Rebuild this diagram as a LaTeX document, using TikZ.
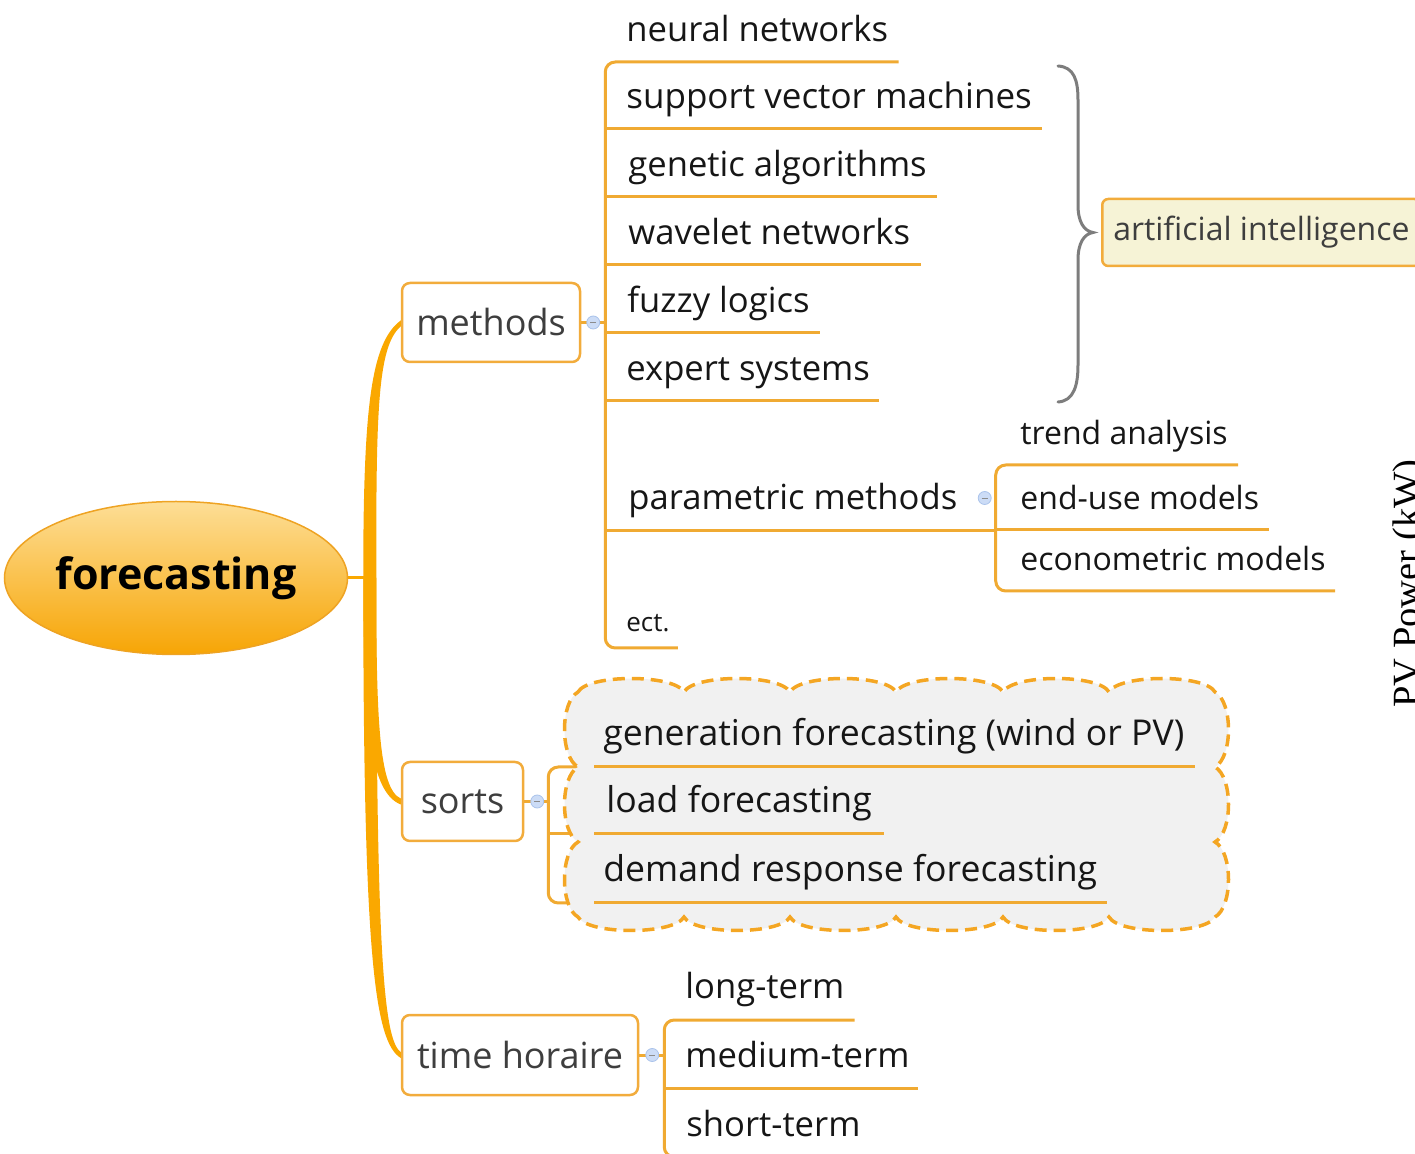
\documentclass[tikz,border=0pt]{standalone}
\usepackage{fontspec}
\newfontfamily\osans{Open Sans}
\newfontfamily\tnr{Liberation Serif}
\usetikzlibrary{calc,shapes.geometric}

\definecolor{mmline}{RGB}{240,170,50}
\definecolor{mmtrunk}{RGB}{250,168,0}
\definecolor{mmbox}{RGB}{242,172,60}
\definecolor{mmtext}{RGB}{22,22,22}
\definecolor{mmgrey}{RGB}{62,62,62}
\definecolor{cloudfill}{RGB}{241,241,241}
\definecolor{clouddash}{RGB}{244,166,35}
\definecolor{aifill}{RGB}{246,243,214}
\definecolor{bracecol}{RGB}{125,125,125}
\definecolor{btnfill}{RGB}{204,220,246}
\definecolor{btndraw}{RGB}{170,195,235}
\definecolor{rootlight}{RGB}{253,222,150}
\definecolor{rootdark}{RGB}{247,165,5}
\definecolor{rootdraw}{RGB}{238,163,35}

\pgfdeclarelayer{wires}
\pgfdeclarelayer{cloudlayer}
\pgfsetlayers{wires,cloudlayer,main}

\tikzset{
  leaf/.style={inner sep=0pt, anchor=base west, text=mmtext,
    font=\osans\fontsize{17.3}{20}\selectfont},
  smallleaf/.style={leaf, font=\osans\fontsize{16}{19}\selectfont},
  cloudleaf/.style={leaf, font=\osans\fontsize{17.8}{21}\selectfont},
  topic/.style={draw=mmbox, line width=1.25pt, rounded corners=4pt, fill=white,
    text=mmgrey, font=\osans\fontsize{18}{22}\selectfont,
    minimum height=39.5pt, inner sep=0pt},
  uline/.style={draw=mmline, line width=1.5pt},
  btn/.style={circle, minimum size=6.5pt, inner sep=0pt, fill=btnfill,
    draw=btndraw, line width=0.4pt,
    path picture={\draw[black!45, line width=0.4pt]
      ([xshift=-1.6pt]path picture bounding box.center) --
      ([xshift=1.6pt]path picture bounding box.center);}},
}

\begin{document}
\begin{tikzpicture}[x=0.5pt, y=-0.5pt]
\useasboundingbox (0,0) rectangle (1415,1154);
\clip (0,0) rectangle (1415,1154);

% ---------- central topic and main branches ----------
\node[ellipse, minimum width=171.5pt, minimum height=76.5pt, inner sep=0pt,
  draw=rootdraw, line width=0.75pt, top color=rootlight, bottom color=rootdark,
  font=\osans\bfseries\fontsize{21.5}{26}\selectfont, text=black]
  (root) at (176,578) {forecasting};

\node[topic, minimum width=89pt] (methods) at (491,322.5) {methods};
\node[topic, minimum width=60.5pt] (sorts) at (462.5,801.5) {sorts};
\node[topic, minimum width=118pt, minimum height=40pt] (horaire) at (520,1055) {time horaire};

\coordinate (hub) at ($(root.east)+(22,0)$);

\begin{pgfonlayer}{wires}
  \draw[mmtrunk, line width=1.5pt] (root.east) -- (hub);
  % tapered branches
  \fill[mmtrunk] ($(hub)+(-7,0)$) .. controls +(0,-170) and +(-30,22) ..
    ($(methods.west)+(0,-2)$) -- ($(methods.west)+(0,4)$)
    .. controls +(-24,20) and +(0,-160) .. ($(hub)+(6,0)$) -- cycle;
  \fill[mmtrunk] ($(hub)+(-7,0)$) .. controls +(0,150) and +(-30,-12) ..
    ($(sorts.west)+(0,3)$) -- ($(sorts.west)+(0,-3)$)
    .. controls +(-22,-10) and +(0,140) .. ($(hub)+(6,0)$) -- cycle;
  \fill[mmtrunk] ($(hub)+(-7,0)$) .. controls +(0,380) and +(-26,-16) ..
    ($(horaire.west)+(0,3)$) -- ($(horaire.west)+(0,-3)$)
    .. controls +(-18,-12) and +(0,360) .. ($(hub)+(6,0)$) -- cycle;
\end{pgfonlayer}

% ---------- methods ----------
\coordinate (ms) at ($(methods.east)+(24,0)$);
\node[leaf] (nn)  at (626,42)  {neural networks};
\node[leaf, font=\osans\fontsize{17.5}{20}\selectfont] (svm) at (626,109) {support vector machines};
\node[leaf] (ga)  at (628,177) {genetic algorithms};
\node[leaf] (wn)  at (628,245) {wavelet networks};
\node[leaf] (fl)  at (627,313) {fuzzy logics};
\node[leaf] (es)  at (626,381) {expert systems};
\node[leaf] (pm)  at (628,510) {parametric methods};
\node[leaf, font=\osans\fontsize{13}{15}\selectfont] (ect) at (626,632) {ect.};

\coordinate (nnU)  at ($(nn.base east)+(10,20)$);
\coordinate (svmU) at ($(svm.base east)+(10,20)$);
\coordinate (gaU)  at ($(ga.base east)+(10,20)$);
\coordinate (wnU)  at ($(wn.base east)+(10,20)$);
\coordinate (flU)  at ($(fl.base east)+(10,20)$);
\coordinate (esU)  at ($(es.base east)+(9,20)$);
\coordinate (ectU) at ($(ect.base east)+(8,16)$);
\coordinate (ps)   at ($(pm.base east)+(38,21)$);

\draw[uline] (methods.east) -- (ms);
\draw[uline, rounded corners=5pt] (nnU) -| (ms) |- (ectU);
\foreach \u in {svmU,gaU,wnU,flU,esU,ps}
  \draw[uline] (ms |- \u) -- (\u);
\node[btn] (mbtn) at ($(methods.east)+(12,0)$) {};

% parametric methods
\node[smallleaf] (ta) at (1020,445) {trend analysis};
\node[smallleaf] (eu) at (1020,510) {end-use models};
\node[smallleaf] (em) at (1020,571) {econometric models};
\coordinate (taU) at ($(ta.base east)+(10,20)$);
\coordinate (euU) at ($(eu.base east)+(10,20)$);
\coordinate (emU) at ($(em.base east)+(9,20)$);
\draw[uline, rounded corners=5pt] (taU) -| (ps) |- (emU);
\draw[uline] (ps |- euU) -- (euU);
\node[btn] (pbtn) at ($(ps)+(-11,-33)$) {};

% artificial intelligence summary
\node[draw=mmbox, line width=1.25pt, rounded corners=3pt, fill=aifill,
  text=mmgrey, font=\osans\fontsize{16}{19}\selectfont, inner xsep=5.5pt,
  minimum height=33.5pt, anchor=west] (ai) at (1101,232.5) {artificial intelligence};
\coordinate (bt) at (1058,66);
\coordinate (bb) at (1058,402);
\coordinate (btip) at ($(ai.west)+(-8,0)$);
\draw[bracecol, line width=1.5pt, line cap=round]
  (bt) .. controls (1074,67) and (1078,80) .. (1078,100)
  -- (1078,205) .. controls (1078,222) and (1084,231) .. (btip)
  .. controls (1084,234) and (1078,243) .. (1078,260)
  -- (1078,365) .. controls (1078,385) and (1074,401) .. (bb);

% ---------- sorts ----------
\coordinate (ss) at ($(sorts.east)+(24,0)$);
\node[cloudleaf] (gen)  at (603,746) {generation forecasting (wind or PV)};
\node[cloudleaf] (load) at (606,813) {load forecasting};
\node[cloudleaf] (dr)   at (603,882) {demand response forecasting};
\coordinate (genU)  at ($(gen.base east)+(10,21)$);
\coordinate (loadU) at ($(load.base east)+(12,21)$);
\coordinate (drU)   at ($(dr.base east)+(9,21)$);

\begin{pgfonlayer}{wires}
  \draw[uline, rounded corners=5pt] ($(ss |- genU)+(46,0)$) -| (ss) |- ($(ss |- drU)+(46,0)$);
  \draw[uline] (ss |- loadU) -- ++(46,0);
\end{pgfonlayer}

\begin{pgfonlayer}{cloudlayer}
\draw[draw=clouddash, fill=cloudfill, line width=1.75pt, dash pattern=on 6pt off 3.5pt]
  (578,692)
  .. controls (588,674) and (674,674) .. (684,692)
  .. controls (694,674) and (780,674) .. (790,692)
  .. controls (800,674) and (886,674) .. (896,692)
  .. controls (906,674) and (993,674) .. (1003,692)
  .. controls (1013,674) and (1099,674) .. (1109,692)
  .. controls (1119,674) and (1205,674) .. (1215,692)
  .. controls (1233,702) and (1233,757) .. (1215,767)
  .. controls (1233,777) and (1233,832) .. (1215,842)
  .. controls (1233,852) and (1233,907) .. (1215,917)
  .. controls (1205,935) and (1119,935) .. (1109,917)
  .. controls (1099,935) and (1013,935) .. (1003,917)
  .. controls (993,935) and (906,935) .. (896,917)
  .. controls (886,935) and (800,935) .. (790,917)
  .. controls (780,935) and (694,935) .. (684,917)
  .. controls (674,935) and (588,935) .. (578,917)
  .. controls (560,907) and (560,852) .. (578,842)
  .. controls (560,832) and (560,777) .. (578,767)
  .. controls (560,757) and (560,702) .. (578,692) -- cycle;
\end{pgfonlayer}

\draw[uline] (sorts.east) -- (ss);
\draw[uline] ($(ss |- genU)+(46,0)$) -- (genU);
\draw[uline] ($(ss |- loadU)+(46,0)$) -- (loadU);
\draw[uline] ($(ss |- drU)+(46,0)$) -- (drU);
\node[btn] (sbtn) at ($(sorts.east)+(13,0)$) {};

% ---------- time horaire ----------
\coordinate (ts) at ($(horaire.east)+(25,0)$);
\node[leaf] (lt) at (685,999)  {long-term};
\node[leaf] (mt) at (685,1067) {medium-term};
\node[leaf] (st) at (686,1136) {short-term};
\coordinate (ltU) at ($(lt.base east)+(10,21)$);
\coordinate (mtU) at ($(mt.base east)+(8,21)$);
\coordinate (stU) at ($(st.base east)+(10,21)$);
\draw[uline] (horaire.east) -- (ts);
\draw[uline, rounded corners=5pt] (ltU) -| (ts) |- (stU);
\draw[uline] (ts |- mtU) -- (mtU);
\node[btn] (tbtn) at ($(horaire.east)+(13,0)$) {};

% ---------- axis label at the right edge ----------
\node[rotate=90, anchor=base west, inner sep=0pt, text=black,
  font=\tnr\fontsize{19.25}{22}\selectfont] (pv) at (1419,708) {PV Power (kW)};
\end{tikzpicture}
\end{document}
